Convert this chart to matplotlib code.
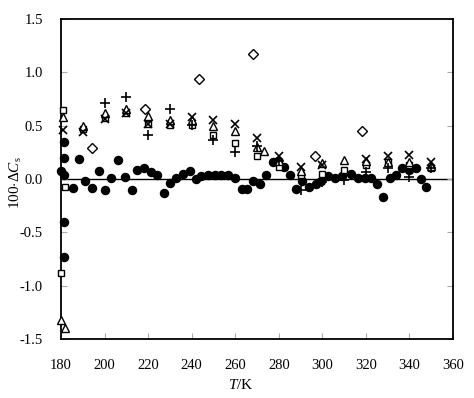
import matplotlib
matplotlib.use('Agg')
import matplotlib.pyplot as plt
import numpy as np

plt.rcParams['font.family'] = ['Liberation Serif', 'DejaVu Serif']
plt.rcParams['mathtext.fontset'] = 'custom'
plt.rcParams['mathtext.rm'] = 'Liberation Serif'
plt.rcParams['mathtext.it'] = 'Liberation Serif:italic'

# filled circles
t_dot = [180, 181.5, 181.5, 181.5, 181.5, 181.5, 185.4, 188.1, 191, 194.2, 197.6, 200, 203,
         206.1, 209.2, 212.5, 215, 218.1, 221.1, 223.9, 227.4, 230, 233, 236.1, 239.2, 241.9,
         244.5, 247.6, 250.6, 253.6, 256.7, 259.8, 262.9, 265.5, 268.3, 271.3, 274.3, 277.4,
         279.7, 282.3, 285, 288, 290.8, 293.9, 296.9, 299.6, 302.8, 305.7, 308.8, 313.3,
         316.4, 319.4, 322.5, 325.1, 328, 331, 333.8, 336.8, 339.8, 342.8, 345.2, 347.7]
d_dot = [0.08, 0.35, 0.20, 0.04, -0.40, -0.73, -0.08, 0.19, -0.015, -0.08, 0.08, -0.10, 0.01,
         0.18, 0.016, -0.10, 0.084, 0.10, 0.07, 0.04, -0.13, -0.04, 0.006, 0.047, 0.075, 0.0,
         0.025, 0.04, 0.04, 0.04, 0.04, 0.015, -0.097, -0.097, -0.018, -0.047, 0.04, 0.16,
         0.17, 0.11, 0.04, -0.097, -0.02, -0.07, -0.05, -0.015, 0.03, 0.006, 0.028, 0.047,
         0.006, 0.006, 0.006, -0.045, -0.166, 0.006, 0.04, 0.10, 0.084, 0.10, -0.003, -0.072]

# open squares
t_sq = [180, 181, 182, 190, 200, 210, 220, 230, 240, 250, 260, 270, 280, 290, 300, 310, 320, 330, 340, 350]
d_sq = [-0.88, 0.65, -0.07, 0.47, 0.57, 0.62, 0.52, 0.51, 0.51, 0.41, 0.34, 0.215, 0.115, 0.04,
        0.05, 0.084, 0.13, 0.16, 0.13, 0.10]

# open triangles
t_tri = [180, 182, 181, 190, 200, 210, 220, 230, 240, 250, 260, 270, 273, 280, 290, 300, 310, 320, 330, 340, 350]
d_tri = [-1.32, -1.40, 0.58, 0.50, 0.62, 0.66, 0.59, 0.55, 0.55, 0.50, 0.45, 0.30, 0.265, 0.17,
         0.08, 0.147, 0.18, 0.17, 0.16, 0.16, 0.12]

# crosses
t_x = [181, 190, 200, 210, 220, 230, 240, 250, 260, 270, 280, 290, 300, 320, 330, 340, 350]
d_x = [0.46, 0.44, 0.56, 0.62, 0.52, 0.52, 0.58, 0.55, 0.52, 0.39, 0.215, 0.115, 0.13, 0.19,
       0.22, 0.225, 0.16]

# plus signs
t_plus = [200, 210, 220, 230, 240, 250, 260, 270, 280, 290, 300, 310, 320, 330, 340, 350]
d_plus = [0.71, 0.766, 0.41, 0.656, 0.51, 0.37, 0.25, 0.31, 0.17, -0.10, -0.025, -0.01, 0.07,
          0.10, 0.02, 0.10]

# diamonds
t_dia = [194.2, 218.5, 243.4, 268.2, 296.5, 318]
d_dia = [0.29, 0.66, 0.94, 1.17, 0.22, 0.45]

fig = plt.figure(figsize=(4.74, 3.98), dpi=100)
ax = fig.add_axes([0.1287, 0.148, 0.827, 0.804])

ax.axhline(0, color='black', lw=1.0, zorder=1)
ax.plot(t_dot, d_dot, 'o', ms=5.8, color='black', zorder=2, clip_on=False)
ax.plot(t_sq, d_sq, 's', ms=5.0, mfc='white', mec='black', mew=1.0, zorder=3, clip_on=False)
ax.plot(t_tri, d_tri, '^', ms=6.0, mfc='white', mec='black', mew=1.0, zorder=3, clip_on=False)
ax.plot(t_dia, d_dia, 'D', ms=4.8, mfc='white', mec='black', mew=1.0, zorder=3, clip_on=False)
ax.plot(t_x, d_x, 'x', ms=6.0, color='black', mew=1.2, zorder=4, clip_on=False)
ax.plot(t_plus, d_plus, '+', ms=7.5, color='black', mew=1.2, zorder=4, clip_on=False)

ax.set_xlim(180, 360)
ax.set_ylim(-1.5, 1.5)
ax.set_xticks(np.arange(180, 361, 20))
ax.set_yticks(np.arange(-1.5, 1.51, 0.5))
ax.set_yticklabels(['-1.5', '-1.0', '-0.5', '0.0', '0.5', '1.0', '1.5'])
ax.tick_params(direction='in', length=4, width=0.8, color='#aaaaaa', labelsize=10.5,
               right=True)
ax.tick_params(axis='x', pad=14)
ax.tick_params(axis='y', pad=13)
for s in ax.spines.values():
    s.set_linewidth(1.3)

ax.set_xlabel(r'$\it{T}$/K', fontsize=11)
ax.set_ylabel(r'100$\cdot\Delta\it{C}_{\rm s}$', fontsize=11)
ax.xaxis.set_label_coords(0.459, -0.122)
ax.yaxis.set_label_coords(-0.094, 0.49)

fig.savefig('out.png', dpi=100)
